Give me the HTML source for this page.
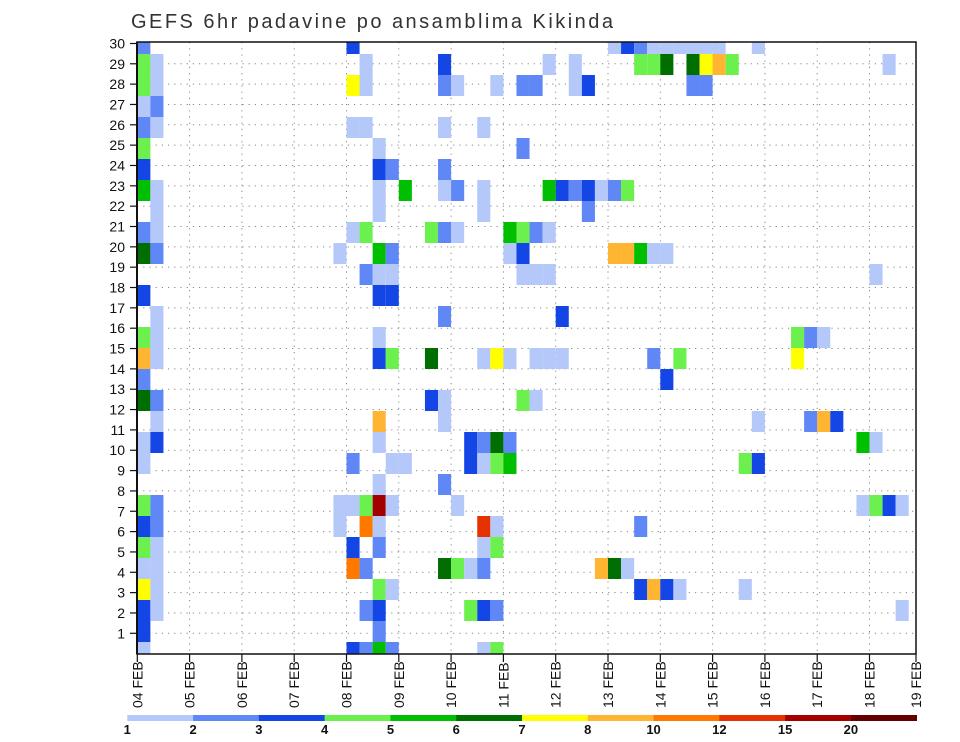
<!DOCTYPE html>
<html><head><meta charset="utf-8">
<style>
html,body{margin:0;padding:0;background:#fff;}
svg{display:block;font-family:"Liberation Sans",sans-serif;}
</style></head>
<body>
<svg id="chart" width="960" height="742" viewBox="0 0 960 742" xmlns="http://www.w3.org/2000/svg">
<defs><clipPath id="plotclip"><rect x="137" y="42" width="779" height="612"/></clipPath></defs>
<text x="131" y="28" font-size="20" fill="#333" textLength="482" lengthAdjust="spacing">GEFS 6hr padavine po ansamblima Kikinda</text>
<g id="grid"></g>
<g id="cells" clip-path="url(#plotclip)"></g>
<rect x="137" y="42" width="779" height="612" fill="none" stroke="#111" stroke-width="1.5"/>
<line x1="137" y1="42" x2="137" y2="654" stroke="#111" stroke-width="2"/>
<g id="yaxis"></g>
<g id="xaxis"></g>
<g id="legend"></g>
</svg>
<script>
// ---- data ----
const dayLabels = ["04 FEB","05 FEB","06 FEB","07 FEB","08 FEB","09 FEB","10 FEB","11 FEB","12 FEB","13 FEB","14 FEB","15 FEB","16 FEB","17 FEB","18 FEB","19 FEB"];
const memberLabels = [1,2,3,4,5,6,7,8,9,10,11,12,13,14,15,16,17,18,19,20,21,22,23,24,25,26,27,28,29,30];
const levelBounds = [1,2,3,4,5,6,7,8,10,12,15,20];
const levelColors = ["#b4c8fa","#5f87f5","#1446e6","#6cf04e","#00be00","#006e00","#ffff00","#ffb432","#ff7800","#e63200","#a50000","#640000"];
// cells: step = 6-hour step index, member row index (29 = top), value in mm
const rowCodes = [
"0b 16c 36a 37c 38b 39a 40a 41a 42a 43a 44a 47a",
"0d 1a 17a 23c 31a 33a 38d 39d 40f 42f 43g 44h 45d 57a",
"0d 1a 16g 17a 23b 24a 27a 29b 30b 33a 34c 42b 43b",
"0a 1b",
"0b 1a 16a 17a 23a 26a",
"0d 18a 29b",
"0c 18c 19b 23b",
"0e 1a 18a 20e 23a 24b 26a 31e 32c 33b 34c 35a 36b 37d",
"1a 18a 26a 34b",
"0b 1a 16a 17d 22d 23b 24a 28e 29d 30b 31a",
"0f 1b 15a 18e 19b 28a 29c 36h 37h 38e 39a 40a",
"17b 18a 19a 29a 30a 31a 56a",
"0c 18c 19c",
"1a 23b 32c",
"0d 1a 18a 50d 51b 52a",
"0h 1a 18c 19d 22f 26a 27g 28a 30a 31a 32a 39b 41d 50g",
"0b 40c",
"0f 1b 22c 23a 29d 30a",
"1a 18h 23a 47a 51b 52h 53c",
"0a 1c 18a 25c 26b 27f 28b 55e 56a",
"0a 16b 19a 20a 25c 26a 27d 28e 46d 47c",
"18a 23b",
"0d 1b 15a 16a 17d 18k 19a 24a 55a 56d 57c 58a",
"0c 1b 15a 17i 18a 26j 27a 38b",
"0d 1a 16c 18b 26a 27d",
"0a 1a 16i 17b 23f 24d 25a 26b 35h 36f 37a",
"0g 1a 18d 19a 38c 39h 40c 41a 46a",
"0c 1a 17b 18c 25d 26c 27b 58a",
"0c 18b",
"0a 16c 17b 18e 19b 26a 27d"
];
const codeValues = {a:1.5,b:2.5,c:3.5,d:4.5,e:5.5,f:6.5,g:7.5,h:9,i:11,j:13.5,k:17};
const cellStep = [], cellMember = [], cellValue = [];
rowCodes.forEach((row, g) => {
  row.split(" ").forEach(tok => {
    cellStep.push(parseInt(tok));
    cellMember.push(29 - g);
    cellValue.push(codeValues[tok.slice(-1)]);
  });
});

// ---- axis functions ----
const NS = "http://www.w3.org/2000/svg";
const X0 = 137.3, DAYW = 52.3, STEPW = DAYW / 4;
const xDay = d => X0 + d * DAYW;
const xStep = s => X0 + s * STEPW;
const yLabel = r => 633.3 - (r - 1) * 20.34;
const yMemberTop = m => 54 + 21 * (28 - m);
const CELLH = 21;
function colorFor(v){
  let idx = 0;
  for (let i = 0; i < levelBounds.length; i++) if (v >= levelBounds[i]) idx = i;
  return levelColors[idx];
}
function mk(tag, attrs, parent){
  const el = document.createElementNS(NS, tag);
  for (const k in attrs) el.setAttribute(k, attrs[k]);
  parent.appendChild(el);
  return el;
}

// grid
const grid = document.getElementById("grid");
memberLabels.forEach(r => {
  if (r === 30) return;
  const l = mk("line", {x1:137, x2:916, y1:yLabel(r), y2:yLabel(r), stroke:"#888", "stroke-width":1, "stroke-dasharray":"1.2,5"}, grid);
  
  
});
for (let d = 1; d < dayLabels.length - 1; d++) {
  const l = mk("line", {x1:xDay(d), x2:xDay(d), y1:42, y2:654, stroke:"#888", "stroke-width":1, "stroke-dasharray":"1.2,5"}, grid);
  
  
}

// cells
const cells = document.getElementById("cells");
for (let i = 0; i < cellStep.length; i++) {
  const r = mk("rect", {x:xStep(cellStep[i]), y:yMemberTop(cellMember[i]), width:STEPW, height:CELLH, fill:colorFor(cellValue[i])}, cells);
  
  
}

// y axis
const yax = document.getElementById("yaxis");
memberLabels.forEach(r => {
  const y = r === 30 ? 43.5 : yLabel(r);
  const t = mk("line", {x1:130, x2:137, y1:y, y2:y, stroke:"#111", "stroke-width":1.2}, yax);
  
  
  const tx = mk("text", {x:125, y:y + 5, "text-anchor":"end", "font-size":14, fill:"#111"}, yax);
  tx.textContent = r;
  
  
});

// x axis
const xax = document.getElementById("xaxis");
dayLabels.forEach((lab, d) => {
  const x = d === dayLabels.length - 1 ? 916 : xDay(d);
  const t = mk("line", {x1:x, x2:x, y1:654, y2:662, stroke:"#111", "stroke-width":1.2}, xax);
  
  
  const tx = mk("text", {x:0, y:0, "font-size":14, fill:"#111", transform:`translate(${x + 5},708) rotate(-90)`}, xax);
  tx.textContent = lab;
  
  
});

// legend
const leg = document.getElementById("legend");
const LX0 = 127.3, LW = (916.7 - 127.3) / levelColors.length;
levelColors.forEach((c, i) => {
  const r = mk("rect", {x:LX0 + i * LW, y:715, width:LW + 0.3, height:6, fill:c}, leg);
  
  
});
levelBounds.forEach((b, i) => {
  const t = mk("text", {x:LX0 + i * LW, y:734, "text-anchor":"middle", "font-size":13, "font-weight":"bold", fill:"#111"}, leg);
  t.textContent = b;
  
  
});
</script>
</body></html>
